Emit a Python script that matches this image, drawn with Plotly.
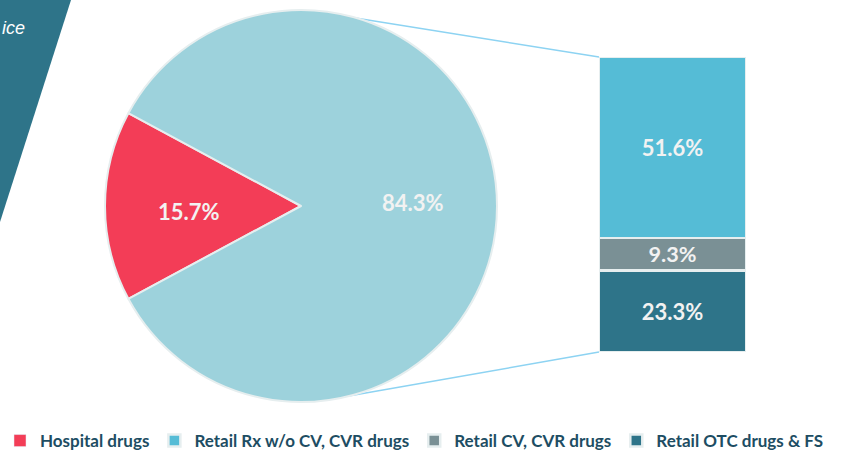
import math
import plotly.graph_objects as go

W, H = 852, 453

RED = "#F33D57"
PIE_BLUE = "#9DD2DC"
BLUE = "#55BCD6"
GRAY = "#7A9095"
TEAL = "#2E7489"
LINE = "#8DD3F2"
TEXT = "#1D4D63"
EDGE = "#E6EEEF"
LABEL = "#F2F2F2"

# pie: hospital vs retail
pie_labels = ["Hospital drugs", "Retail drugs"]
pie_values = [15.7, 84.3]
pie_colors = [RED, PIE_BLUE]

# bar: breakdown of retail, stacked bottom -> top
bar_names = ["Retail OTC drugs & FS", "Retail CV, CVR drugs", "Retail Rx w/o CV, CVR drugs"]
bar_values = [23.3, 9.3, 51.6]
bar_colors = [TEAL, GRAY, BLUE]
bar_rank = [4, 3, 2]


def px(x):
    return x / W


def py(y):
    return 1 - y / H


# layout geometry in pixels
cx, cy, r = 301, 206, 196
bx0, bx1, by0, by1 = 599, 746, 57, 352

fig = go.Figure()

fig.add_trace(go.Pie(
    labels=pie_labels, values=pie_values, sort=False,
    direction="clockwise",
    rotation=270 - pie_values[0] / 100 * 360 / 2,
    marker=dict(colors=pie_colors, line=dict(color=EDGE, width=2)),
    textinfo="none",
    domain=dict(x=[px(cx - r), px(cx + r)], y=[py(cy + r), py(cy - r)]),
    showlegend=False, hoverinfo="label+percent",
))

# legend entry for the pie slice
fig.add_trace(go.Bar(
    x=["Retail"], y=[None], name=pie_labels[0], marker_color=RED,
    legendrank=1,
))

for name, v, c, rk in zip(bar_names, bar_values, bar_colors, bar_rank):
    fig.add_trace(go.Bar(
        x=["Retail"], y=[v], name=name, width=1,
        marker=dict(color=c, line=dict(color=EDGE, width=2.5)),
        text=[f"{v:.1f}%"], textposition="inside", insidetextanchor="middle",
        textfont=dict(family="Lato", size=22, color=LABEL, weight="bold"),
        legendrank=rk, hoverinfo="name+y",
    ))

# pie labels, placed inside each slice
pie_annots = []
for v, a, dy in zip(pie_values, [180, 0], [6, -4]):
    rr = 0.57 * r
    pie_annots.append(dict(
        text=f"{v:.1f}%", xref="paper", yref="paper",
        x=px(cx + rr * math.cos(math.radians(a))), y=py(cy + dy),
        showarrow=False, xanchor="center", yanchor="middle",
        font=dict(family="Lato", size=22, color=LABEL, weight="bold"),
    ))

# connector lines from pie edge to bar corners
top_pt = (357, cy - math.sqrt(r**2 - (357 - cx) ** 2))
bot_pt = (350, cy + math.sqrt(r**2 - (350 - cx) ** 2))
shapes = [
    dict(type="line", xref="paper", yref="paper",
         x0=px(top_pt[0]), y0=py(top_pt[1]), x1=px(bx0), y1=py(by0),
         line=dict(color=LINE, width=1.5), layer="below"),
    dict(type="line", xref="paper", yref="paper",
         x0=px(bot_pt[0]), y0=py(bot_pt[1]), x1=px(bx0), y1=py(by1),
         line=dict(color=LINE, width=1.5), layer="below"),
    # banner in the top-left corner
    dict(type="path", xref="paper", yref="paper",
         path=f"M {px(0)},{py(0)} L {px(71)},{py(0)} L {px(0)},{py(222)} Z",
         fillcolor=TEAL, line=dict(width=0), layer="below"),
]

fig.update_layout(
    width=W, height=H,
    margin=dict(l=0, r=0, t=0, b=0, autoexpand=False),
    paper_bgcolor="white", plot_bgcolor="white",
    barmode="stack",
    xaxis=dict(domain=[px(bx0), px(bx1)], range=[-0.5, 0.5], visible=False),
    yaxis=dict(domain=[py(by1), py(by0)], range=[0, sum(bar_values)], visible=False),
    shapes=shapes,
    annotations=pie_annots + [dict(
        text="<i>ice</i>", xref="paper", yref="paper",
        x=0, y=py(28), xanchor="left", yanchor="middle", showarrow=False,
        font=dict(family="Liberation Sans", size=18, color="white"),
    )],
    legend=dict(
        orientation="h", x=0.0, y=py(441), xanchor="left", yanchor="middle",
        traceorder="normal", itemwidth=30,
        font=dict(family="Lato", size=17, color=TEXT, weight="bold"),
    ),
    font=dict(family="Lato"),
)

fig.write_html(
    "out.html",
    config={"displayModeBar": False},
    post_script="document.body.style.margin='0';document.body.style.overflow='hidden';",
)
